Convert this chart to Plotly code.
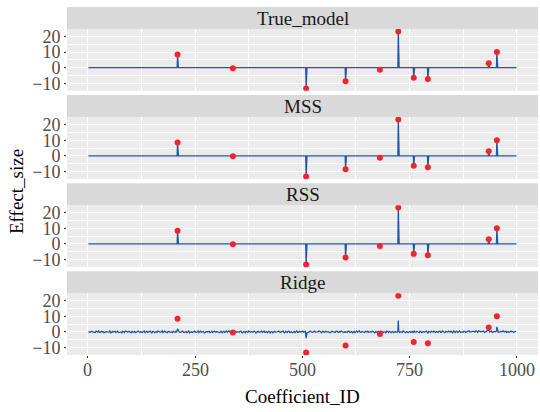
import numpy as np
import plotly.graph_objects as go

# ---------------- data ----------------
panel_names = ["True_model", "MSS", "RSS", "Ridge"]
n_coef = 1000

true_ids = [209, 338, 509, 601, 681, 724, 760, 793, 935, 954]
true_vals = [8.5, -0.3, -13.3, -8.7, -1.3, 23.3, -6.4, -7.3, 2.9, 10.0]
mss_vals = [8.4, -0.2, -13.2, -8.6, -1.2, 23.2, -6.3, -7.2, 2.8, 10.0]
rss_vals = [8.4, -0.2, -13.2, -8.6, -1.2, 23.2, -6.3, -7.2, 2.8, 10.0]

# ridge estimates (small noise) at coefficients 1,5,9,...
ridge_noise_a = [
    0.2, -0.3, 0.5, 0.1, -0.4, 0.3, 0.6, -0.2, 0.0, -0.5, 0.2, 0.4, -0.1, -0.6, 0.3, 0.1, -0.3, 0.5, -0.2, 0.0, 0.4, -0.4, 0.2, -0.1, 0.3,
    -0.5, 0.1, 0.3, -0.2, 0.6, -0.3, 0.0, 0.2, -0.4, 0.4, -0.1, 0.5, -0.6, 0.2, 0.1, -0.3, 0.3, -0.2, 0.7, -0.1, 0.0, -0.5, 0.3, 0.2, -0.4,
    0.1, 0.4, -0.3, 0.0, -0.2, 0.5, -0.4, 0.3, 0.2, -0.6, 0.1, -0.1, 0.4, -0.3, 0.6, 0.0, -0.2, 0.3, -0.5, 0.2, 0.1, -0.4, 0.5, -0.1, 0.0,
    0.3, -0.2, 0.2, -0.5, 0.4, 0.1, -0.3, 0.6, -0.1, 0.0, -0.4, 0.3, 0.2, -0.2, 0.5, -0.6, 0.1, 0.4, -0.3, 0.0, 0.2, -0.1, 0.3, -0.5, 0.4,
    -0.2, 0.5, 0.0, -0.3, 0.1, 0.3, -0.6, 0.2, 0.4, -0.1, 0.0, 0.6, -0.4, 0.1, -0.2, 0.3, -0.3, 0.5, 0.1, -0.5, 0.2, 0.0, -0.2, 0.4, -0.1,
    0.6, -0.1, 0.3, -0.4, 0.2, 0.0, -0.3, 0.5, -0.2, 0.1, 0.4, -0.5, 0.3, -0.1, 0.0, 0.2, -0.6, 0.4, 0.1, -0.3, 0.5, -0.2, 0.0, 0.3, -0.4,
    0.1, -0.2, 0.4, 0.0, -0.5, 0.3, 0.2, -0.1, 0.6, -0.3, 0.1, -0.4, 0.2, 0.5, -0.2, 0.0, 0.3, -0.6, 0.1, 0.4, -0.1, 0.2, -0.3, 0.0, 0.5,
    -0.3, 0.2, 0.1, -0.4, 0.3, -0.1, 0.5, 0.0, -0.2, 0.4, -0.5, 0.1, 0.3, -0.3, 0.2, 0.6, -0.1, 0.0, -0.4, 0.3, 0.1, -0.2, 0.5, -0.6, 0.2,
    0.4, -0.1, 0.0, 0.3, -0.3, 0.5, -0.2, 0.1, -0.5, 0.2, 0.4, 0.0, -0.1, 0.6, -0.4, 0.3, 0.1, -0.2, 0.0, 0.5, -0.3, 0.2, 0.7, -0.1, 0.4,
    0.3, 0.6, -0.2, 0.5, 0.1, 0.4, -0.3, 0.2, 0.8, 0.0, 0.5, -0.1, 0.3, 0.6, -0.2, 0.4, 0.1, 0.7, 0.0, -0.3, 0.2, 0.5, 0.1, -0.2, 0.0,
]
ridge_ids_a = list(range(1, 1001, 4))
# ridge estimates at coefficients 3,7,11,...
ridge_noise_b = [
    -0.4, 0.3, 0.0, -0.2, 0.5, -0.1, -0.3, 0.4, 0.2, -0.5, 0.1, 0.0, 0.6, -0.3, -0.1, 0.4, 0.2, -0.4, 0.3, -0.6, 0.1, 0.5, -0.2, 0.3, -0.3,
    0.4, -0.2, -0.5, 0.3, 0.1, 0.2, -0.4, 0.6, -0.1, -0.3, 0.4, 0.0, 0.3, -0.5, 0.2, 0.6, -0.1, 0.1, -0.4, 0.5, -0.3, 0.2, -0.1, 0.0, 0.4,
    -0.3, 0.0, 0.5, -0.4, 0.3, -0.2, 0.1, -0.5, 0.6, 0.0, -0.3, 0.4, -0.2, 0.1, -0.4, 0.5, 0.3, -0.6, 0.2, -0.1, 0.4, 0.0, -0.3, 0.5, -0.2,
    0.1, -0.5, 0.4, 0.2, -0.3, 0.6, -0.1, 0.0, 0.3, -0.4, 0.5, -0.2, -0.1, 0.4, -0.3, 0.2, -0.5, 0.1, 0.6, -0.2, 0.0, 0.3, -0.4, 0.2, -0.1,
    0.3, -0.3, 0.5, 0.0, -0.4, 0.2, 0.1, -0.5, 0.4, -0.2, 0.3, -0.1, 0.0, 0.5, -0.6, 0.2, 0.4, -0.3, 0.1, 0.0, -0.4, 0.6, -0.2, 0.1, 0.3,
    -0.2, 0.4, -0.4, 0.1, 0.5, -0.3, 0.2, -0.1, 0.0, 0.6, -0.5, 0.3, -0.2, 0.4, 0.1, -0.4, 0.0, 0.2, -0.3, 0.5, -0.1, 0.3, 0.6, -0.4, 0.1,
    0.0, 0.5, -0.3, 0.2, -0.1, -0.4, 0.6, 0.1, -0.2, 0.3, -0.5, 0.4, 0.0, -0.3, 0.2, 0.5, -0.4, 0.1, -0.1, 0.3, 0.6, -0.2, 0.0, -0.5, 0.2,
    0.4, -0.4, 0.3, 0.1, -0.2, 0.5, -0.3, 0.0, 0.6, -0.1, 0.2, -0.5, 0.4, 0.1, -0.3, 0.0, 0.3, -0.2, 0.5, -0.4, 0.2, 0.0, -0.1, 0.4, -0.3,
    0.2, 0.5, -0.3, 0.1, 0.4, -0.2, 0.6, -0.4, 0.3, 0.0, -0.1, 0.5, -0.5, 0.2, 0.4, -0.3, 0.6, 0.1, -0.2, 0.3, 0.0, 0.5, -0.1, 0.2, 0.6,
    0.0, 0.4, 0.7, -0.1, 0.3, 0.5, -0.2, 0.6, 0.2, 0.4, -0.3, 0.5, 0.1, 0.8, -0.1, 0.3, 0.6, 0.0, 0.4, 0.2, -0.2, 0.5, 0.3, 0.1, 0.4,
]
ridge_ids_b = list(range(3, 1001, 4))
ridge_spike_ids = [209, 509, 724, 935, 954]
ridge_spike_vals = [2.0, -4.0, 7.3, 1.3, 3.3]

x_ticks = [0, 250, 500, 750, 1000]
x_tick_text = ["0", "250", "500", "750", "1000"]
y_ticks = [-10, 0, 10, 20]
y_tick_text = ["\u221210", "0", "10", "20"]

# ---------------- build series ----------------
def sparse_to_full(ids, vals):
    y = np.zeros(n_coef)
    y[np.array(ids) - 1] = vals
    return np.arange(1, n_coef + 1), y

ridge_map = dict(zip(ridge_ids_a, ridge_noise_a))
ridge_map.update(dict(zip(ridge_ids_b, ridge_noise_b)))
ridge_map.update(dict(zip(ridge_spike_ids, ridge_spike_vals)))
ridge_x = sorted(ridge_map)
ridge_y = [ridge_map[k] for k in ridge_x]

series = [
    sparse_to_full(true_ids, true_vals),
    sparse_to_full(true_ids, mss_vals),
    sparse_to_full(true_ids, rss_vals),
    (np.array(ridge_x), np.array(ridge_y)),
]

# ---------------- layout geometry (pixels) ----------------
W, H = 540, 412
mt, mb, ml, mr = 7, 57, 67, 2
ph = H - mt - mb
strips = [(7, 29), (95.1, 117.1), (183.2, 205.2), (271.3, 293.3)]
panels = [(29, 90.8), (117.1, 178.9), (205.2, 267), (293.3, 355)]

def py(p):
    return (H - mb - p) / ph

FONT = "Liberation Serif"
BLUE = "#2356a6"
RED = "#f5242c"

fig = go.Figure()
for i, (xs, ys) in enumerate(series):
    k = "" if i == 0 else str(i + 1)
    fig.add_trace(go.Scatter(x=xs, y=ys, mode="lines", line=dict(color=BLUE, width=1.3),
                             xaxis="x" + k, yaxis="y" + k, showlegend=False, hoverinfo="skip"))
    fig.add_trace(go.Scatter(x=true_ids, y=true_vals, mode="markers",
                             marker=dict(color=RED, size=6), xaxis="x" + k, yaxis="y" + k,
                             showlegend=False))

shapes = []
annotations = []
for i, name in enumerate(panel_names):
    k = "" if i == 0 else str(i + 1)
    top, bot = panels[i]
    show_tk = i == 3
    fig.layout["xaxis" + k] = dict(
        domain=[0, 1], anchor="y" + k, range=[-48.95, 1049.95],
        tickvals=x_ticks, showticklabels=False,
        ticks="outside" if show_tk else "", ticklen=2, tickcolor="#333333",
        showgrid=True, gridcolor="white", gridwidth=1.1, zeroline=False,
        minor=dict(dtick=125, tick0=0, showgrid=True, gridcolor="white", gridwidth=0.5),
        showline=False,
    )
    fig.layout["yaxis" + k] = dict(
        domain=[py(bot), py(top)], anchor="x" + k, range=[-14.83, 24.83],
        tickvals=y_ticks, ticktext=y_tick_text,
        ticks="outside", ticklen=2, tickcolor="#333333",
        showgrid=True, gridcolor="white", gridwidth=1.1, zeroline=False,
        minor=dict(dtick=5, tick0=0, showgrid=True, gridcolor="white", gridwidth=0.5),
        tickfont=dict(family=FONT, size=18, color="#4D4D4D"), showline=False,
    )
    st, sb = strips[i]
    shapes.append(dict(type="rect", xref="paper", yref="paper", x0=0, x1=1,
                       y0=py(sb), y1=py(st), fillcolor="#D9D9D9", line=dict(width=0), layer="below"))
    annotations.append(dict(text=name, xref="paper", yref="paper", x=0.5, y=py((st + sb) / 2),
                            xanchor="center", yanchor="middle", showarrow=False,
                            font=dict(family=FONT, size=19, color="#1A1A1A")))

# x tick labels of the bottom panel, placed on the x4 scale
for v, t in zip(x_ticks, x_tick_text):
    annotations.append(dict(text=t, xref="x4", yref="paper", x=v, y=py(370),
                            xanchor="center", yanchor="middle", showarrow=False,
                            font=dict(family=FONT, size=18, color="#4D4D4D")))

annotations.append(dict(text="Coefficient_ID", xref="paper", yref="paper", x=0.5, y=py(397),
                        xanchor="center", yanchor="middle", showarrow=False,
                        font=dict(family=FONT, size=19, color="black")))
annotations.append(dict(text="Effect_size", xref="paper", yref="paper", x=(17 - ml) / (W - ml - mr),
                        y=py(192), xanchor="center", yanchor="middle", showarrow=False, textangle=-90,
                        font=dict(family=FONT, size=19, color="black")))

fig.update_layout(
    width=W, height=H, margin=dict(l=ml, r=mr, t=mt, b=mb),
    paper_bgcolor="white", plot_bgcolor="#EBEBEB",
    shapes=shapes, annotations=annotations, showlegend=False,
    font=dict(family=FONT),
)
fig.write_html("out.html")
